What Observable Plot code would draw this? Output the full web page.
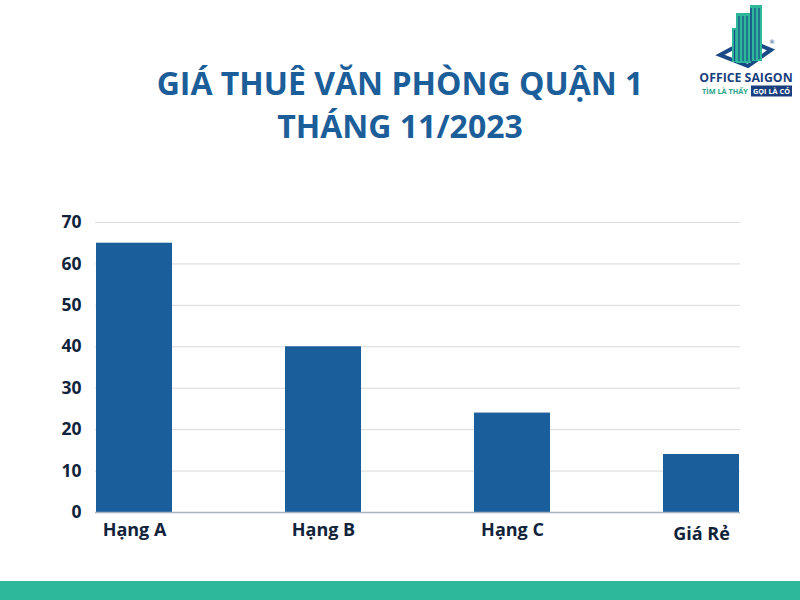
<!DOCTYPE html>
<html><head><meta charset="utf-8">
<script src="https://cdn.jsdelivr.net/npm/d3@7"></script>
<script src="https://cdn.jsdelivr.net/npm/@observablehq/plot@0.6"></script>
<style>
html,body{margin:0;padding:0;background:#fff;}
#wrap{position:relative;width:800px;height:600px;overflow:hidden;font-family:"Open Sans",sans-serif;}
#title{position:absolute;left:0;top:61px;width:800px;text-align:center;color:#1c5e99;font-weight:700;font-size:32px;line-height:43px;}
#chart{position:absolute;left:0;top:0;}
#strip{position:absolute;left:0;top:581px;width:800px;height:19px;background:#2db89b;}
#logo{position:absolute;left:690px;top:0;}
</style></head>
<body><div id="wrap">
<div id="chart"></div>
<div id="title">GIÁ THUÊ VĂN PHÒNG QUẬN 1<br>THÁNG 11/2023</div>
<svg id="logo" width="110" height="110" viewBox="0 0 110 110">
  <path d="M30 55 L58 40 L81 50 L58 66 Z" fill="none" stroke="#1a4a86" stroke-width="4"/>
  <rect x="42" y="28" width="9" height="34" fill="#2db89b"/>
  <rect x="46" y="13" width="15" height="50" fill="#2db89b"/>
  <rect x="60" y="5" width="12" height="56" fill="#2db89b"/>
  <g stroke="#1a4a86" stroke-width="1.2">
    <line x1="44.5" y1="30" x2="44.5" y2="61"/>
    <line x1="49" y1="16" x2="49" y2="61"/>
    <line x1="53" y1="16" x2="53" y2="61"/>
    <line x1="57" y1="16" x2="57" y2="61"/>
    <line x1="61" y1="8" x2="61" y2="61" stroke-width="1.6"/>
    <line x1="65" y1="8" x2="65" y2="60"/>
    <line x1="69" y1="8" x2="69" y2="59"/>
  </g>
  <text x="79" y="44" font-size="6" fill="#1a4a86" font-family="DejaVu Sans">®</text>
  <text x="56" y="81.5" text-anchor="middle" font-family="Open Sans" font-weight="700" font-size="12.3" fill="#1a3f7e">OFFICE SAIGON</text>
  <text x="12" y="94" font-family="Open Sans" font-weight="700" font-size="7.3" fill="#2aa58b">TÌM LÀ THẤY</text>
  <rect x="61" y="85.5" width="41" height="11" fill="#1a3f7e"/>
  <text x="81.5" y="94" text-anchor="middle" font-family="Open Sans" font-weight="700" font-size="7.3" fill="#fff">GỌI LÀ CÓ</text>
</svg>
<div id="strip"></div>
</div>
<script>
const categories = ["Hạng A", "Hạng B", "Hạng C", "Giá Rẻ"];
const values = [65, 40, 24, 14];
const yTicks = [0, 10, 20, 30, 40, 50, 60, 70];
const data = categories.map((c, i) => ({cat: c, val: values[i]}));

const chart = Plot.plot({
  width: 800,
  height: 581,
  marginTop: 222,
  marginBottom: 69,
  marginLeft: 95,
  marginRight: 60,
  style: {fontFamily: "Open Sans", background: "transparent"},
  x: {domain: categories, padding: 0.6, paddingOuter: 0, label: null},
  y: {domain: [0, 70], ticks: yTicks, label: null},
  marks: [
    Plot.gridY(yTicks, {stroke: "#d9d9d9", strokeOpacity: 1, strokeWidth: 1}),
    Plot.barY(data, {x: "cat", y: "val", fill: "#1a5e9c"}),
    Plot.ruleY([0], {stroke: "#a9b3c0", strokeWidth: 1.5}),
    Plot.axisY(yTicks, {tickSize: 0, tickPadding: 14, fontSize: 17.5, fontWeight: 700, fill: "#10233a", label: null}),
    Plot.axisX(categories.slice(0, 3), {tickSize: 0, tickPadding: 11, fontSize: 18, fontWeight: 700, fill: "#10233a", label: null}),
    Plot.axisX(categories.slice(3), {tickSize: 0, tickPadding: 15, fontSize: 18, fontWeight: 700, fill: "#10233a", label: null})
  ]
});
document.getElementById("chart").appendChild(chart);
</script>
</body></html>
